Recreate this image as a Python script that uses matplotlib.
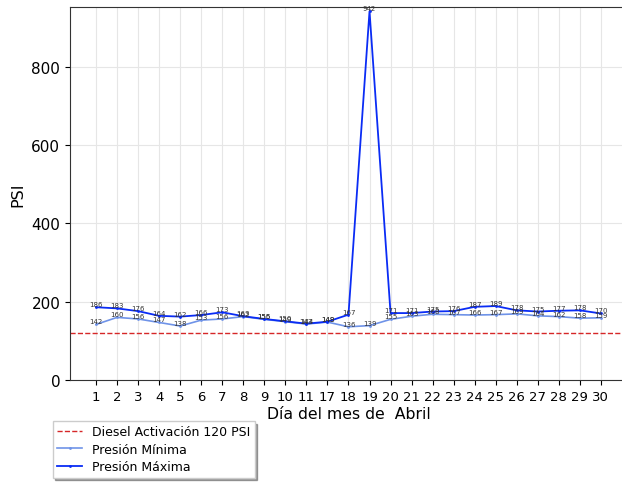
import matplotlib
matplotlib.use("Agg")
import matplotlib.pyplot as plt

days = ["1", "2", "3", "4", "5", "6", "7", "8", "9", "10", "11",
        "17", "18", "19", "20", "21", "22", "23", "24", "25", "26", "27", "28", "29", "30"]
p_max = [186, 183, 176, 164, 162, 166, 173, 163, 156, 150, 144,
         149, 167, 942, 171, 171, 175, 176, 187, 189, 178, 175, 177, 178, 170]
p_min = [142, 160, 156, 147, 138, 153, 156, 162, 155, 149, 143,
         148, 136, 139, 155, 163, 168, 167, 166, 167, 169, 164, 162, 158, 159]
diesel = 120

fig = plt.figure(figsize=(6.22, 4.85), dpi=100)
ax = fig.add_axes([0.1125, 0.2144, 0.8955, 0.7691])
x = list(range(len(days)))

ax.axhline(diesel, color="#d62728", linestyle="--", linewidth=1.0, label="Diesel Activación 120 PSI")
ax.plot(x, p_min, color="#6f93e8", linewidth=1.2, marker=".", markersize=2, label="Presión Mínima")
ax.plot(x, p_max, color="#0a2cf5", linewidth=1.3, marker=".", markersize=2, label="Presión Máxima")

for xi, v in zip(x, p_max):
    ax.text(xi, v, str(v), fontsize=5, ha="center", va="bottom", color="#333333")
for xi, v in zip(x, p_min):
    ax.text(xi, v, str(v), fontsize=5, ha="center", va="bottom", color="#333333")

ax.set_xticks(x)
ax.set_xticklabels(days, fontsize=9.5)
ax.tick_params(axis="y", labelsize=11)
ax.set_xlim(-1.24, 25.24)
ax.set_ylim(0, 953)
ax.set_yticks([0, 200, 400, 600, 800])
ax.grid(True, color="#e6e6e6", linewidth=0.8)
ax.set_axisbelow(True)
ax.set_ylabel("PSI", fontsize=11.5)
ax.set_xlabel("Día del mes de  Abril", fontsize=11.3, labelpad=2)
for s in ax.spines.values():
    s.set_color("#333333")

leg = ax.legend(loc="upper left", bbox_to_anchor=(-0.031, -0.11), fontsize=9,
                shadow=True, fancybox=False, frameon=True, borderaxespad=0,
                labelspacing=0.35, handlelength=2.0, borderpad=0.35)
leg.get_frame().set_edgecolor("#cccccc")

fig.savefig("out.png", dpi=100)
